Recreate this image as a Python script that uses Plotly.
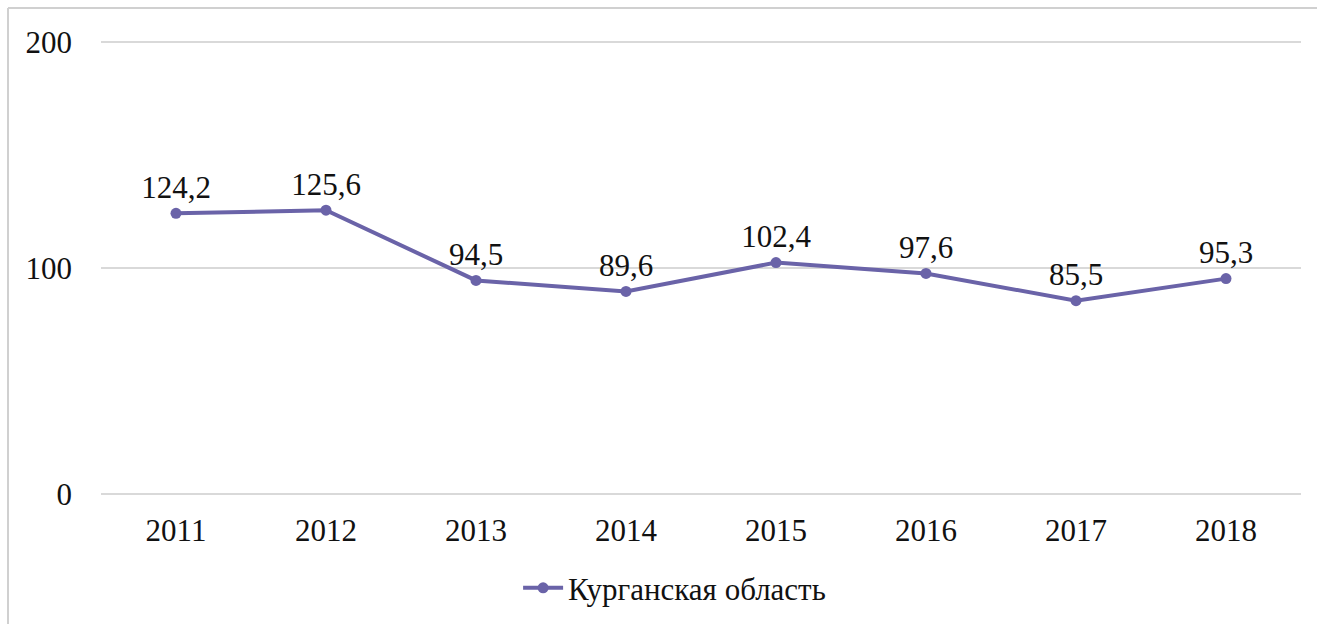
import plotly.graph_objects as go

years = ["2011", "2012", "2013", "2014", "2015", "2016", "2017", "2018"]
values = [124.2, 125.6, 94.5, 89.6, 102.4, 97.6, 85.5, 95.3]
series_name = "Курганская область"
y_ticks = [0, 100, 200]

labels = [f"{v:.1f}".replace(".", ",") for v in values]

line_color = "#6A63A8"
font_family = "Liberation Serif"
font_size = 31

fig = go.Figure()
fig.add_trace(go.Scatter(
    x=years,
    y=values,
    mode="lines+markers+text",
    name=series_name,
    line=dict(color=line_color, width=4),
    marker=dict(color=line_color, size=11),
    text=labels,
    textposition="top center",
    textfont=dict(family=font_family, size=font_size, color="#111111"),
    cliponaxis=False,
))

fig.update_layout(
    width=1317,
    height=624,
    margin=dict(l=101, r=16, t=40, b=128, autoexpand=False),
    paper_bgcolor="white",
    plot_bgcolor="white",
    font=dict(family=font_family, size=font_size, color="#111111"),
    showlegend=True,
    legend=dict(
        orientation="h",
        x=0.478, xanchor="center",
        y=-0.143, yanchor="top",
        font=dict(family=font_family, size=font_size, color="#111111"),
        itemwidth=40,
    ),
    xaxis=dict(
        type="category",
        range=[-0.5, 7.5],
        showgrid=False,
        showline=False,
        zeroline=False,
        ticks="",
        ticklabelstandoff=13,
    ),
    yaxis=dict(
        range=[-1, 201],
        tickvals=y_ticks,
        showgrid=True,
        gridcolor="#D9D9D9",
        gridwidth=2,
        zeroline=False,
        showline=False,
        ticks="",
        ticklabelstandoff=28,
    ),
    shapes=[
        # light frame along the top and left of the chart area
        dict(type="line", xref="paper", yref="paper",
             x0=-0.0775, x1=1.2, y0=1.07, y1=1.07,
             line=dict(color="#D0D0D0", width=2)),
        dict(type="line", xref="paper", yref="paper",
             x0=-0.0775, x1=-0.0775, y0=1.07, y1=-0.4,
             line=dict(color="#D0D0D0", width=2)),
    ],
)

fig.write_html("out.html")
